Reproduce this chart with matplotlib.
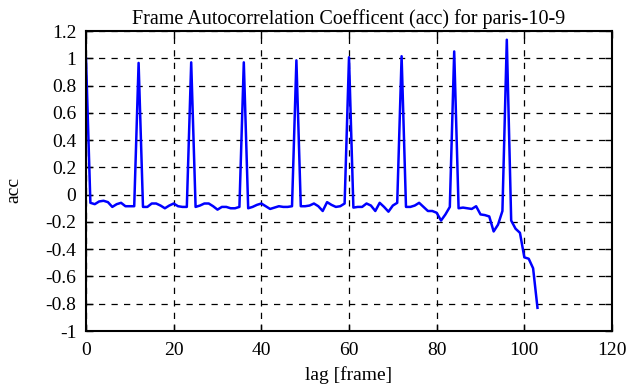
import numpy as np
import matplotlib
matplotlib.use("Agg")
import matplotlib.pyplot as plt

plt.rcParams['font.family'] = ['Liberation Serif', 'DejaVu Serif']

# autocorrelation values, lag 0..103
acc = [1.0, -0.06, -0.07, -0.05, -0.045, -0.055, -0.09, -0.07, -0.06, -0.085, -0.085, -0.085,
       0.966, -0.09, -0.09, -0.065, -0.065, -0.08, -0.1, -0.08, -0.065, -0.085, -0.09, -0.09,
       0.97, -0.09, -0.08, -0.065, -0.065, -0.085, -0.11, -0.09, -0.09, -0.1, -0.1, -0.09,
       0.97, -0.1, -0.09, -0.075, -0.065, -0.085, -0.105, -0.095, -0.085, -0.09, -0.09, -0.085,
       0.985, -0.085, -0.085, -0.08, -0.065, -0.085, -0.12, -0.055, -0.075, -0.09, -0.085, -0.065,
       1.007, -0.095, -0.09, -0.09, -0.065, -0.08, -0.12, -0.06, -0.09, -0.125, -0.08, -0.06,
       1.015, -0.09, -0.09, -0.08, -0.06, -0.09, -0.12, -0.12, -0.133, -0.19, -0.145, -0.09,
       1.05, -0.1, -0.095, -0.1, -0.105, -0.085, -0.145, -0.15, -0.16, -0.27, -0.22, -0.12,
       1.136, -0.19, -0.25, -0.28, -0.46, -0.47, -0.54, -0.83]
lag = np.arange(len(acc))

xticks = [0, 20, 40, 60, 80, 100, 120]
yticks = [-1, -0.8, -0.6, -0.4, -0.2, 0, 0.2, 0.4, 0.6, 0.8, 1, 1.2]
ytick_labels = ['-1', '-0.8', '-0.6', '-0.4', '-0.2', '0', '0.2', '0.4', '0.6', '0.8', '1', '1.2']

fig = plt.figure(figsize=(6.29, 3.87), dpi=100)
ax = fig.add_axes([86/629, 1-331/387, (612-86)/629, (331-31)/387])

ax.plot(lag, acc, color='#0000ff', linewidth=1.8)

ax.set_xlim(0, 120)
ax.set_ylim(-1, 1.2)
ax.set_xticks(xticks)
ax.set_yticks(yticks)
ax.set_yticklabels(ytick_labels)
ax.tick_params(direction='in', length=5, width=1, top=True, right=True, labelsize=14)
ax.tick_params(axis='x', pad=8)
ax.tick_params(axis='y', pad=7)
ax.grid(True, color='black', linestyle=(0, (5, 5)), linewidth=0.9)
for s in ax.spines.values():
    s.set_linewidth(1.5)

ax.set_title('Frame Autocorrelation Coefficent (acc) for paris-10-9', fontsize=14.5, pad=5)
ax.set_xlabel('lag [frame]', fontsize=14, labelpad=5)
ax.set_ylabel('acc', fontsize=14, va='center')
ax.yaxis.set_label_coords(-0.137, 0.47)

fig.savefig('out.png', dpi=100)
